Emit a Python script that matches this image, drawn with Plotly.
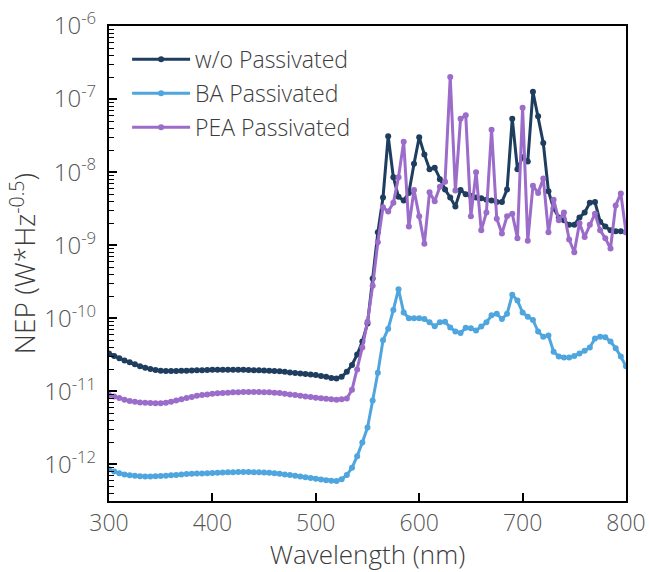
import plotly.graph_objects as go

# Wavelength grid (nm), 5 nm steps
wavelength = list(range(300, 805, 5))

# Noise-equivalent power, W*Hz^-0.5
nep_wo = [
    3.3e-11, 3.05e-11, 2.85e-11, 2.65e-11, 2.5e-11, 2.35e-11, 2.2e-11, 2.1e-11, 2.02e-11, 1.96e-11,
    1.92e-11, 1.9e-11, 1.9e-11, 1.9e-11, 1.91e-11, 1.92e-11, 1.93e-11, 1.94e-11, 1.95e-11, 1.96e-11,
    1.97e-11, 1.97e-11, 1.98e-11, 1.98e-11, 1.98e-11, 1.98e-11, 1.97e-11, 1.96e-11, 1.95e-11, 1.94e-11,
    1.93e-11, 1.92e-11, 1.9e-11, 1.88e-11, 1.85e-11, 1.82e-11, 1.79e-11, 1.76e-11, 1.73e-11, 1.7e-11,
    1.67e-11, 1.63e-11, 1.58e-11, 1.53e-11, 1.5e-11, 1.58e-11, 1.85e-11, 2.3e-11, 3.2e-11, 4.8e-11,
    8.5e-11, 3.5e-10, 1.5e-9, 4.5e-9, 3.1e-8, 8.5e-9, 4.6e-9, 4.1e-9, 5.2e-9, 1.3e-8,
    3.0e-8, 1.75e-8, 1.1e-8, 1.15e-8, 8.0e-9, 5.8e-9, 4.5e-9, 3.4e-9, 5.7e-9, 5.0e-9,
    4.7e-9, 4.5e-9, 4.4e-9, 4.2e-9, 4.1e-9, 3.9e-9, 3.9e-9, 5.8e-9, 5.4e-8, 1.1e-8,
    1.6e-8, 1.4e-8, 1.26e-7, 5.8e-8, 2.5e-8, 5.5e-9, 3.2e-9, 2.4e-9, 2.2e-9, 1.9e-9,
    1.9e-9, 2.4e-9, 2.8e-9, 3.8e-9, 3.9e-9, 2.1e-9, 1.8e-9, 1.6e-9, 1.55e-9, 1.55e-9,
    1.5e-9,
]

nep_ba = [
    8.6e-13, 8.0e-13, 7.6e-13, 7.3e-13, 7.1e-13, 7.0e-13, 6.9e-13, 6.85e-13, 6.85e-13, 6.9e-13,
    6.95e-13, 7.0e-13, 7.1e-13, 7.2e-13, 7.3e-13, 7.4e-13, 7.45e-13, 7.5e-13, 7.55e-13, 7.6e-13,
    7.65e-13, 7.7e-13, 7.75e-13, 7.8e-13, 7.85e-13, 7.9e-13, 7.9e-13, 7.9e-13, 7.85e-13, 7.8e-13,
    7.75e-13, 7.7e-13, 7.6e-13, 7.45e-13, 7.3e-13, 7.15e-13, 7.0e-13, 6.85e-13, 6.7e-13, 6.55e-13,
    6.4e-13, 6.25e-13, 6.1e-13, 6.0e-13, 5.95e-13, 6.3e-13, 7.2e-13, 9.0e-13, 1.3e-12, 2.0e-12,
    3.2e-12, 7.5e-12, 1.8e-11, 5.0e-11, 7.2e-11, 1.3e-10, 2.5e-10, 1.2e-10, 1.0e-10, 1.0e-10,
    1.0e-10, 9.8e-11, 8.8e-11, 7.8e-11, 8.8e-11, 9.0e-11, 7.5e-11, 6.6e-11, 6.3e-11, 7.4e-11,
    7.3e-11, 6.8e-11, 7.7e-11, 8.8e-11, 1.1e-10, 1.15e-10, 9.8e-11, 1.15e-10, 2.1e-10, 1.75e-10,
    1.2e-10, 1.05e-10, 9.5e-11, 6.6e-11, 5.6e-11, 5.8e-11, 3.5e-11, 3.0e-11, 2.9e-11, 2.9e-11,
    3.05e-11, 3.3e-11, 3.6e-11, 4.0e-11, 5.3e-11, 5.6e-11, 5.5e-11, 4.8e-11, 3.9e-11, 3.0e-11,
    2.2e-11,
]

nep_pea = [
    8.9e-12, 8.5e-12, 8.1e-12, 7.7e-12, 7.4e-12, 7.2e-12, 7.05e-12, 7.0e-12, 6.95e-12, 6.9e-12,
    6.9e-12, 7.0e-12, 7.2e-12, 7.5e-12, 7.8e-12, 8.1e-12, 8.4e-12, 8.7e-12, 8.9e-12, 9.1e-12,
    9.3e-12, 9.4e-12, 9.5e-12, 9.6e-12, 9.7e-12, 9.75e-12, 9.8e-12, 9.8e-12, 9.8e-12, 9.8e-12,
    9.75e-12, 9.7e-12, 9.6e-12, 9.5e-12, 9.3e-12, 9.1e-12, 8.9e-12, 8.7e-12, 8.5e-12, 8.35e-12,
    8.2e-12, 8.05e-12, 7.9e-12, 7.8e-12, 7.7e-12, 7.8e-12, 8.0e-12, 1.05e-11, 2.0e-11, 4.0e-11,
    9.0e-11, 2.8e-10, 1.1e-9, 3.3e-9, 2.9e-9, 3.8e-9, 8.5e-9, 2.6e-8, 1.8e-9, 5.7e-9,
    2.5e-9, 1.05e-9, 5.3e-9, 4.0e-9, 6.3e-9, 7.4e-9, 2.0e-7, 5.6e-9, 5.4e-8, 6.0e-8,
    2.5e-9, 1.0e-8, 1.6e-9, 2.8e-9, 3.8e-8, 2.3e-9, 1.45e-9, 2.5e-9, 2.7e-9, 1.25e-9,
    7.6e-8, 1.15e-9, 6.5e-9, 5.2e-9, 8.2e-9, 1.5e-9, 4.2e-9, 2.2e-9, 2.8e-9, 1.2e-9,
    8.0e-10, 2.0e-9, 1.3e-9, 1.9e-9, 2.7e-9, 1.6e-9, 1.25e-9, 9.0e-10, 3.5e-9, 5.1e-9,
    1.5e-9,
]

series = [
    ("w/o Passivated", nep_wo, "#1e3d5f"),
    ("BA Passivated", nep_ba, "#4fa5de"),
    ("PEA Passivated", nep_pea, "#9b6cca"),
]

# Decade ticks and their labels
decades = list(range(-12, -5))
ytick_vals = [10.0 ** e for e in decades]
ytick_text = [f"10<sup>{e}</sup>" for e in decades]
minor_vals = [k * 10.0 ** e for e in range(-13, -6) for k in range(2, 10)]

FONT = "Open Sans"
TICK_COLOR = "#555555"
TITLE_COLOR = "#3c3c3c"

fig = go.Figure()
for name, values, color in series:
    fig.add_trace(go.Scatter(
        x=wavelength, y=values, name=name, mode="lines+markers",
        legendgroup=name,
        line=dict(color=color, width=3),
        marker=dict(color=color, size=6, symbol="circle"),
    ))

fig.update_layout(
    width=649, height=572,
    margin=dict(l=109, r=23, t=26, b=71),
    paper_bgcolor="white", plot_bgcolor="white",
    font=dict(family=FONT, color=TICK_COLOR, weight=300),
    showlegend=True,
    legend=dict(
        x=0.035, y=0.975, xanchor="left", yanchor="top",
        bgcolor="rgba(0,0,0,0)", borderwidth=0,
        font=dict(size=23, color=TITLE_COLOR, family=FONT, weight=300),
        itemwidth=58,
        tracegroupgap=1,
    ),
)

fig.update_xaxes(
    range=[300, 800], automargin=False,
    tickvals=[300, 400, 500, 600, 700, 800],
    ticks="inside", ticklen=8, tickwidth=1.5, tickcolor="black",
    showline=True, linecolor="black", linewidth=2, mirror=True,
    showgrid=False, zeroline=False,
    tickfont=dict(size=23, color=TICK_COLOR, family=FONT, weight=300),
    ticklabelstandoff=0,
    title=dict(text="Wavelength (nm)",
               font=dict(size=26, color=TITLE_COLOR, family=FONT, weight=300), standoff=0),
)

fig.update_yaxes(
    type="log", range=[-12.5, -6], automargin=False,
    tickvals=ytick_vals, ticktext=ytick_text,
    ticks="inside", ticklen=8, tickwidth=1.5, tickcolor="black",
    minor=dict(tickvals=minor_vals, ticks="inside", ticklen=5, tickwidth=1, tickcolor="black"),
    showline=True, linecolor="black", linewidth=2, mirror=True,
    showgrid=False, zeroline=False,
    tickfont=dict(size=24, color=TICK_COLOR, family=FONT, weight=300),
    ticklabelstandoff=6,
    title=dict(text="NEP (W*Hz<sup>-0.5</sup>)",
               font=dict(size=28, color=TITLE_COLOR, family=FONT, weight=300), standoff=0),
)

fig.write_html("out.html")
